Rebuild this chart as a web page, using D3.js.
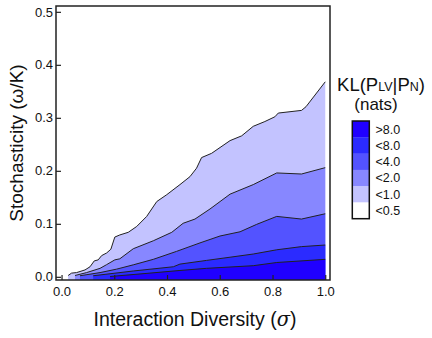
<!DOCTYPE html>
<html><head><meta charset="utf-8">
<script src="https://cdn.jsdelivr.net/npm/d3@7"></script>
<style>
body{margin:0;background:#fff;}
text{font-family:Arial,"Liberation Sans",sans-serif;fill:#111;}
</style></head>
<body><svg id="c" width="432" height="338"></svg>
<script>
// Contour boundaries: [interaction diversity, stochasticity]
const level05 = [[0.025,0.0025],[0.038,0.007],[0.057,0.008],[0.089,0.013],[0.108,0.019],[0.124,0.030],[0.139,0.032],[0.152,0.040],[0.171,0.045],[0.187,0.052],[0.202,0.075],[0.221,0.079],[0.253,0.084],[0.285,0.095],[0.323,0.114],[0.361,0.142],[0.399,0.155],[0.449,0.174],[0.487,0.189],[0.512,0.205],[0.531,0.225],[0.569,0.233],[0.639,0.257],[0.683,0.266],[0.727,0.284],[0.771,0.293],[0.809,0.302],[0.822,0.309],[0.910,0.314],[0.927,0.321],[1.0,0.368]];
const level1 = [[0.051,0.0025],[0.095,0.008],[0.146,0.016],[0.171,0.023],[0.202,0.032],[0.221,0.034],[0.272,0.053],[0.348,0.068],[0.418,0.084],[0.461,0.101],[0.506,0.109],[0.563,0.128],[0.639,0.156],[0.727,0.174],[0.816,0.196],[0.910,0.194],[1.0,0.206]];
const level2 = [[0.070,0.002],[0.146,0.008],[0.209,0.0145],[0.272,0.0226],[0.348,0.033],[0.436,0.048],[0.525,0.064],[0.601,0.077],[0.677,0.085],[0.740,0.099],[0.816,0.114],[0.910,0.109],[1.0,0.119]];
const level4 = [[0.120,0.002],[0.272,0.011],[0.424,0.019],[0.449,0.024],[0.550,0.031],[0.639,0.037],[0.727,0.043],[0.816,0.051],[0.910,0.057],[1.0,0.060]];
const level8 = [[0.184,0.0006],[0.335,0.007],[0.449,0.012],[0.550,0.016],[0.727,0.021],[0.816,0.027],[1.0,0.033]];

const levels = [level05, level1, level2, level4, level8];
const levelColors = ["#c3c3ff","#8787ff","#5353ff","#2b2bff","#2000ff"];

const legendLabels = [">8.0","<8.0","<4.0","<2.0","<1.0","<0.5"];
const legendColors = ["#2000ff","#2b2bff","#5353ff","#8787ff","#c3c3ff","#ffffff"];

const xTicks = [0,0.2,0.4,0.6,0.8,1.0];
const yTicks = [0,0.1,0.2,0.3,0.4,0.5];

const svg = d3.select("#c");
const L=56,R=330,T=6,B=280;
const x = d3.scaleLinear().domain([-0.021,1.018]).range([L,R]);
const y = d3.scaleLinear().domain([-0.006,0.511]).range([B,T]);

const g = svg.append("g");
levels.forEach((pts,i)=>{
  const x0 = pts[0][0], x1 = pts[pts.length-1][0];
  const poly = pts.map(p=>[x(p[0]),y(p[1])]).concat([[x(x1),B],[x(x0),B]]);
  g.append("path").attr("d","M"+poly.join("L")+"Z").attr("fill",levelColors[i]).attr("stroke","none");
});
const line = d3.line().x(d=>x(d[0])).y(d=>y(d[1]));
levels.forEach(pts=>{
  g.append("path").attr("d",line(pts)).attr("fill","none").attr("stroke","#222").attr("stroke-width",1);
});

const fmt = d3.format(".1f");
const xa = svg.append("g").attr("transform",`translate(0,${B})`)
  .call(d3.axisBottom(x).tickValues(xTicks).tickFormat(fmt).tickSize(-5).tickPadding(6.5));
const ya = svg.append("g").attr("transform",`translate(${L},0)`)
  .call(d3.axisLeft(y).tickValues(yTicks).tickFormat(fmt).tickSize(-5).tickPadding(3));
[xa,ya].forEach(a=>{
  a.select(".domain").remove();
  a.selectAll("line").attr("stroke","#222").attr("stroke-width",1.2);
  a.selectAll("text").attr("font-size",13).attr("font-family","Arial, Liberation Sans, sans-serif").attr("fill","#111");
});
svg.append("rect").attr("x",L).attr("y",T).attr("width",R-L).attr("height",B-T)
  .attr("fill","none").attr("stroke","#222").attr("stroke-width",1.5);

svg.append("text").attr("x",195).attr("y",326).attr("text-anchor","middle").attr("font-size",19.5)
  .html('Interaction Diversity (<tspan font-style="italic" font-family="DejaVu Serif, serif">σ</tspan>)');
svg.append("text").attr("transform",`translate(23,${(T+B)/2}) rotate(-90)`).attr("text-anchor","middle").attr("font-size",19)
  .text("Stochasticity (ω/K)");

// legend
const lt = svg.append("text").attr("x",381).attr("y",91).attr("text-anchor","middle").attr("font-size",18.5);
lt.append("tspan").text("KL(P");
lt.append("tspan").attr("font-size",12.5).text("LV");
lt.append("tspan").text("|P");
lt.append("tspan").attr("font-size",12.5).text("N");
lt.append("tspan").text(")");
svg.append("text").attr("x",376).attr("y",110).attr("text-anchor","middle").attr("font-size",17).text("(nats)");

const ly = d3.scaleBand().domain(legendLabels).range([121,218.7]);
const lg = svg.append("g");
lg.selectAll("rect.b").data(legendLabels).join("rect").attr("class","b")
  .attr("x",352.3).attr("y",d=>ly(d)).attr("width",17).attr("height",ly.bandwidth()+0.3)
  .attr("fill",(d,i)=>legendColors[i]);
lg.append("rect").attr("x",352.3).attr("y",121).attr("width",17).attr("height",97.7)
  .attr("fill","none").attr("stroke","#111").attr("stroke-width",1.5);
lg.selectAll("text").data(legendLabels).join("text")
  .attr("x",375.5).attr("y",d=>ly(d)+ly.bandwidth()/2).attr("dy","0.36em").attr("font-size",12.5).text(d=>d);
</script></body></html>
